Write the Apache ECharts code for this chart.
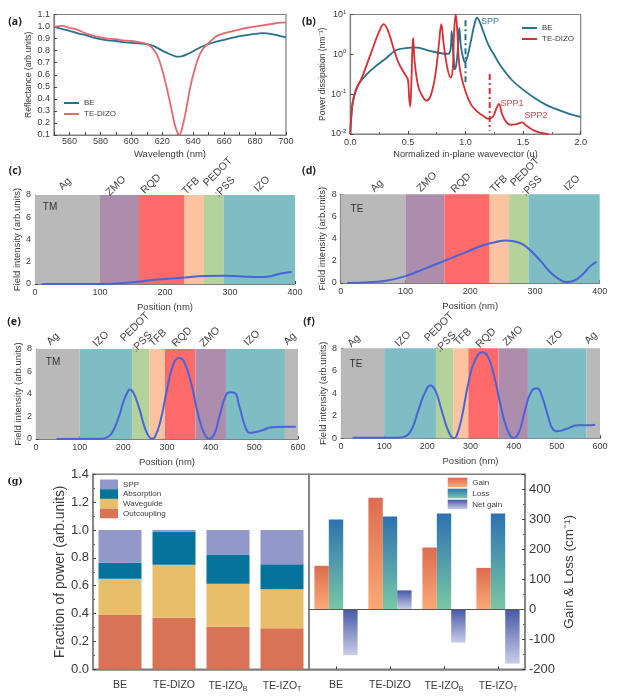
<!DOCTYPE html>
<html lang="en">
<head>
    <meta charset="UTF-8">
    <title>Field intensity and power charts</title>
    <style>
        html, body { margin: 0; padding: 0; background: #fff; }
        #chart { width: 619px; height: 700px; }
    </style>
</head>
<body>
<div id="chart"></div>
<script src="https://cdn.jsdelivr.net/npm/echarts@6/dist/echarts.min.js"></script>
<script type="text/javascript">
    // (a) reflectance
    var beWave = [550,555,560,565,570,575,580,585,590,595,600,605,610,615,620,625,628,630,633,636,640,645,650,655,660,665,670,675,680,685,690,695,700];
    var beRefl = [1.0,.98,.965,.945,.93,.91,.895,.885,.88,.87,.865,.86,.855,.835,.80,.77,.755,.75,.755,.77,.795,.83,.855,.875,.89,.905,.92,.93,.94,.945,.94,.925,.91];
    var dizoWave = [550,555,560,565,570,575,580,585,590,595,600,605,610,613,616,618,620,622,624,626,628,630,631,632,634,636,638,640,642,644,646,648,650,655,660,665,670,675,680,685,690,695,700];
    var dizoRefl = [1.0,1.005,.99,.975,.945,.925,.91,.90,.895,.885,.88,.87,.855,.83,.78,.72,.64,.54,.43,.31,.19,.115,.10,.12,.22,.35,.49,.60,.69,.76,.81,.84,.865,.92,.945,.96,.975,.99,1.0,1.01,1.02,1.03,1.035];

    // (b) power dissipation
    var beU = [0,.005,.01,.02,.05,.1,.2,.3,.4,.5,.55,.6,.7,.8,.85,.87,.88,.89,.9,.905,.92,.935,.946,.96,.98,.995,1.02,1.05,1.08,1.1,1.12,1.15,1.2,1.25,1.3,1.4,1.5,1.6,1.7,1.8,1.9,2.0];
    var bePower = [.01,.02,.03,.06,.13,.23,.45,.75,1.28,1.45,1.5,1.45,1.2,1.05,1.03,1.3,3.8,1.5,.65,.42,.55,1.6,4.6,1.6,.8,.63,.95,2.4,6,8.3,6.8,4.05,1.7,.96,.54,.23,.13,.08,.054,.041,.032,.027];
    var dizoU = [0,.005,.01,.02,.05,.1,.2,.25,.29,.33,.38,.42,.47,.5,.51,.52,.53,.545,.56,.59,.62,.66,.7,.74,.77,.79,.81,.84,.87,.89,.9,.915,.93,.95,1.0,1.05,1.1,1.15,1.2,1.24,1.27,1.29,1.32,1.36,1.4,1.45,1.49,1.53,1.6,1.7,1.72];
    var dizoPower = [.01,.02,.03,.06,.13,.26,1.55,3.7,5.7,3.7,1.28,.6,.33,.23,.087,.049,.19,2.6,.6,.155,.096,.069,.096,.33,1.9,5.7,1.9,.49,.26,.45,3.3,10,3.3,.45,.117,.054,.037,.029,.024,.028,.045,.057,.03,.019,.017,.018,.0195,.016,.012,.0101,.01];
    var sppLineBE = [[1.0,7.2],[1.0,.19]];
    var sppLineDizo = [[1.21,.32],[1.21,.012]];

    // (c)-(f) layer stacks, edges in nm
    var layersC = ['Ag','ZMO','RQD','TFB','PEDOT:PSS','IZO'];
    var edgesC = [0,100,160,230,260,290,400];
    var edgesD = [0,100,160,230,260,290,400];
    var layersE = ['Ag','IZO','PEDOT:PSS','TFB','RQD','ZMO','IZO','Ag'];
    var edgesE = [0,100,220,260,295,365,435,570,600];
    var edgesF = [0,100,220,260,295,365,433,569,600];

    var posC = [10,100,120,150,180,200,230,260,290,320,345,360,375,390,395];
    var fieldC = [0,0,.03,.15,.35,.45,.58,.72,.75,.68,.63,.68,.9,1.05,1.08];
    var posD = [10,50,70,100,130,160,190,220,240,255,275,290,310,325,340,348,360,375,385,395];
    var fieldD = [0,.1,.2,.62,1.3,2.0,2.7,3.4,3.7,3.83,3.65,3.1,1.9,.9,.25,.08,.2,.85,1.5,1.9];
    var posE = [47,150,165,175,190,200,210,215,222,235,250,260,265,272,285,300,315,328,340,355,370,385,397,408,420,435,445,455,465,480,490,500,520,540,570,595];
    var fieldE = [0,.02,.2,.6,2.0,3.3,4.2,4.4,4.2,2.9,.9,.15,.02,.15,1.6,4.4,6.7,7.2,6.8,5.0,2.4,.5,.02,.4,2.0,3.9,4.15,4.1,3.0,1.0,.55,.6,.8,1.05,1.08,1.08];
    var posF = [27,100,130,150,165,180,195,207,218,230,245,255,260,267,280,295,310,328,340,355,370,385,400,412,425,440,454,465,480,490,500,520,549,570,589];
    var fieldF = [.05,.05,.05,.2,.9,2.6,4.1,4.7,4.3,2.9,1.0,.15,.02,.15,1.9,4.9,6.9,7.65,7.3,5.5,2.9,.8,.03,.5,2.3,4.1,4.45,3.8,1.9,.85,.62,.8,1.15,1.15,1.2];

    // (g) power fractions and gain / loss
    var devices = ['BE','TE-DIZO','TE-IZO{sub|B}','TE-IZO{sub|T}'];
    var outcoupling = [.39,.37,.305,.295];
    var waveguide = [.26,.38,.31,.28];
    var absorption = [.115,.24,.21,.18];
    var spp = [.235,.01,.175,.245];
    var gain = [145,372,206,138];
    var loss = [299,309,319,319];
    var netGain = [-153,63,-111,-181];

    var layerColors = {'Ag': '#b9b9b9', 'ZMO': '#ac8dac', 'RQD': '#ff6a6a', 'TFB': '#fcc3a0', 'PEDOT:PSS': '#b4d29b', 'IZO': '#7dbdc3'};
    var textColor = '#3a3a3a';
    var frameColor = '#7f7f7f';
    var fontName = '"Liberation Sans", Arial, sans-serif';

    var chart = echarts.init(document.getElementById('chart'));

    function zip(xs, ys) {
        return xs.map(function (x, i) { return [x, ys[i]]; });
    }

    function grad(top, bottom) {
        return new echarts.graphic.LinearGradient(0, 0, 0, 1, [{offset: 0, color: top}, {offset: 1, color: bottom}]);
    }

    function valueAxis(idx, opt) {
        var axis = {
            type: 'value', gridIndex: idx, nameLocation: 'middle', splitLine: {show: false},
            axisLine: {show: true, onZero: false, lineStyle: {color: frameColor, width: 1.2}},
            axisTick: {show: true, inside: true, length: 3, lineStyle: {color: '#444'}},
            minorTick: {show: true, splitNumber: 2, length: 2, lineStyle: {color: '#666'}},
            axisLabel: {color: textColor, fontSize: 9, fontFamily: fontName, margin: 4, showMinLabel: true, showMaxLabel: true},
            nameTextStyle: {color: textColor, fontSize: 9.5, fontFamily: fontName}
        };
        return Object.assign(axis, opt);
    }

    function layerAreas(names, edges) {
        return names.map(function (n, i) {
            return [{xAxis: edges[i], itemStyle: {color: layerColors[n], opacity: 1}}, {xAxis: edges[i + 1]}];
        });
    }

    function fieldSeries(idx, xs, ys, names, edges) {
        return {
            type: 'line', name: 'field' + idx, xAxisIndex: idx, yAxisIndex: idx, data: zip(xs, ys),
            showSymbol: false, smooth: 0.5,
            lineStyle: {color: '#4a64d8', width: 2},
            markArea: {silent: true, data: layerAreas(names, edges), label: {show: false}}
        };
    }

    function layerText(x, y, txt) {
        return {type: 'text', x: x, y: y, rotation: Math.PI / 4, z: 10,
            style: {text: txt, fill: '#444', fontSize: 10.5, fontFamily: fontName, align: 'center', verticalAlign: 'middle'}};
    }

    function plain(x, y, txt, color, size, weight, family) {
        return {type: 'text', x: x, y: y, z: 10,
            style: {text: txt, fill: color, fontSize: size, fontWeight: weight || 'normal', fontFamily: family || fontName, align: 'center', verticalAlign: 'middle'}};
    }

    var grids = [
        {left: 54, top: 14.5, width: 232, height: 120.5, show: true, borderColor: frameColor, borderWidth: 1.2},
        {left: 350.3, top: 14.5, width: 230.4, height: 119.5, show: true, borderColor: frameColor, borderWidth: 1.2},
        {left: 35, top: 195, width: 260, height: 89},
        {left: 340.7, top: 194.3, width: 259, height: 88.7},
        {left: 36, top: 349, width: 262, height: 90},
        {left: 341, top: 348.3, width: 259, height: 90},
        {left: 93, top: 474.3, width: 216, height: 195, show: true, borderColor: frameColor, borderWidth: 1.5},
        {left: 309, top: 474.3, width: 216, height: 195, show: true, borderColor: frameColor, borderWidth: 1.5}
    ];

    var posAxis = {min: 0, max: 400, interval: 100, name: 'Position (nm)', nameGap: 18};
    var fieldAxis = {min: 0, max: 8, interval: 2, name: 'Field intensity (arb.units)', nameGap: 11};

    var xAxes = [
        valueAxis(0, {min: 550, max: 700, interval: 10, name: 'Wavelength (nm)', nameGap: 14,
            axisLabel: {color: textColor, fontSize: 9, fontFamily: fontName, margin: 2, formatter: function (v) { return v % 20 === 0 ? v : ''; }},
            minorTick: {show: false}}),
        valueAxis(1, {min: 0, max: 2, interval: .5, name: 'Normalized in-plane wavevector (u)', nameGap: 16,
            axisLabel: {color: textColor, fontSize: 9, fontFamily: fontName, margin: 4, formatter: function (v) { return v.toFixed(1); }},
            nameTextStyle: {color: textColor, fontSize: 9.2, fontFamily: fontName}}),
        valueAxis(2, posAxis), valueAxis(3, posAxis),
        valueAxis(4, Object.assign({}, posAxis, {max: 600})), valueAxis(5, Object.assign({}, posAxis, {max: 600})),
        {type: 'category', gridIndex: 6, data: devices,
            axisLine: {show: true, onZero: false, lineStyle: {color: frameColor, width: 1.5}},
            axisTick: {show: true, inside: true, alignWithLabel: true, length: 3, lineStyle: {color: '#444'}},
            axisLabel: {color: textColor, fontSize: 10.5, fontFamily: fontName, margin: 10, interval: 0,
                rich: {sub: {fontSize: 7, verticalAlign: 'bottom', padding: [6, 0, 0, 0], color: textColor, fontFamily: fontName}}}},
        {type: 'category', gridIndex: 7, data: devices, position: 'bottom',
            axisLine: {show: true, onZero: false, lineStyle: {color: frameColor, width: 1.5}},
            axisTick: {show: true, inside: true, alignWithLabel: true, length: 3, lineStyle: {color: '#444'}},
            axisLabel: {color: textColor, fontSize: 10.5, fontFamily: fontName, margin: 10, interval: 0,
                rich: {sub: {fontSize: 7, verticalAlign: 'bottom', padding: [6, 0, 0, 0], color: textColor, fontFamily: fontName}}}}
    ];

    var yAxes = [
        valueAxis(0, {min: .1, max: 1.1, interval: .1, name: 'Reflectance (arb.units)', nameGap: 17,
            axisLabel: {color: textColor, fontSize: 9, fontFamily: fontName, margin: 4, formatter: function (v) { return v.toFixed(1); }},
            minorTick: {show: false}, nameTextStyle: {color: textColor, fontSize: 8.6, fontFamily: fontName}}),
        valueAxis(1, {type: 'log', logBase: 10, min: .01, max: 10, name: 'Power dissipation (nm\u207b\u00b9)', nameGap: 13,
            minorTick: {show: false}, nameTextStyle: {color: textColor, fontSize: 8.6, fontFamily: fontName},
            axisLabel: {color: textColor, fontSize: 9, fontFamily: fontName, margin: 4,
                formatter: function (v) { return '10{sup|' + Math.round(Math.log10(v)) + '}'; },
                rich: {sup: {fontSize: 6, verticalAlign: 'top', padding: [0, 0, 5, 0], color: textColor, fontFamily: fontName}}}}),
        valueAxis(2, fieldAxis), valueAxis(3, fieldAxis), valueAxis(4, fieldAxis), valueAxis(5, fieldAxis),
        valueAxis(6, {min: 0, max: 1.4, interval: .2, name: 'Fraction of power (arb.units)', nameGap: 20,
            axisLabel: {color: textColor, fontSize: 13, fontFamily: fontName, margin: 4, formatter: function (v) { return v.toFixed(1); }},
            axisLine: {show: true, lineStyle: {color: frameColor, width: 1.5}},
            nameTextStyle: {color: textColor, fontSize: 13.8, fontFamily: fontName}}),
        valueAxis(7, {min: -200, max: 450, interval: 100, position: 'right', name: 'Gain & Loss (cm\u207b\u00b9)', nameGap: 37,
            axisLabel: {color: textColor, fontSize: 13, fontFamily: fontName, margin: 4, formatter: function (v) { return v === 450 ? '' : v; }},
            axisLine: {show: true, lineStyle: {color: frameColor, width: 1.5}},
            nameTextStyle: {color: textColor, fontSize: 13.5, fontFamily: fontName}})
    ];

    function lineSeries(idx, name, xs, ys, color, width, smooth) {
        return {type: 'line', name: name, xAxisIndex: idx, yAxisIndex: idx, data: zip(xs, ys),
            showSymbol: false, smooth: smooth, lineStyle: {color: color, width: width}, itemStyle: {color: color}};
    }

    function stackBar(name, vals, color) {
        return {type: 'bar', name: name, xAxisIndex: 6, yAxisIndex: 6, stack: 'power', data: vals, barWidth: 43, itemStyle: {color: color}};
    }

    function gainBar(name, vals, color) {
        return {type: 'bar', name: name, xAxisIndex: 7, yAxisIndex: 7, data: vals, barWidth: 14.4, barGap: 0, itemStyle: {color: color}};
    }

    var netSeries = gainBar('Net gain', netGain, grad('#4658a8', '#c9cde8'));
    netSeries.markLine = {silent: true, symbol: 'none', label: {show: false}, lineStyle: {color: '#555', width: 1.2, type: 'solid'}, data: [{yAxis: 0}]};

    var series = [
        lineSeries(0, 'BE', beWave, beRefl, '#27708c', 1.8, 0.3),
        lineSeries(0, 'TE-DIZO', dizoWave, dizoRefl, '#e36a70', 1.8, 0.3),
        lineSeries(1, 'BE', beU, bePower, '#27708c', 1.8, 0.4),
        lineSeries(1, 'TE-DIZO', dizoU, dizoPower, '#d42f35', 1.8, 0.4),
        {type: 'line', name: 'SPP line', xAxisIndex: 1, yAxisIndex: 1, data: sppLineBE, showSymbol: false, lineStyle: {color: '#27708c', width: 2, type: [6, 3, 2, 3]}},
        {type: 'line', name: 'SPP1 line', xAxisIndex: 1, yAxisIndex: 1, data: sppLineDizo, showSymbol: false, lineStyle: {color: '#d42f35', width: 2, type: [6, 3, 2, 3]}},
        fieldSeries(2, posC, fieldC, layersC, edgesC),
        fieldSeries(3, posD, fieldD, layersC, edgesD),
        fieldSeries(4, posE, fieldE, layersE, edgesE),
        fieldSeries(5, posF, fieldF, layersE, edgesF),
        stackBar('Outcoupling', outcoupling, '#d97355'),
        stackBar('Waveguide', waveguide, '#e8be6a'),
        stackBar('Absorption', absorption, '#06739c'),
        stackBar('SPP', spp, '#9398cb'),
        gainBar('Gain', gain, grad('#dc6c50', '#fba976')),
        gainBar('Loss', loss, grad('#2e72b0', '#78c8a4')),
        netSeries
    ];

    function lineLegend(left, top, beColor, dizoColor) {
        return {orient: 'vertical', left: left, top: top, padding: 0, icon: 'rect', itemWidth: 15, itemHeight: 2, itemGap: 3,
            selectedMode: false, textStyle: {color: textColor, fontSize: 8, fontFamily: fontName},
            data: [{name: 'BE', itemStyle: {color: beColor}}, {name: 'TE-DIZO', itemStyle: {color: dizoColor}}]};
    }

    var graphics = [
        plain(15, 22, '(a)', '#222', 10.5, 'bold', '"Noto Sans"'),
        plain(309, 22, '(b)', '#222', 10.5, 'bold', '"Noto Sans"'),
        plain(15, 171, '(c)', '#222', 10.5, 'bold', '"Noto Sans"'),
        plain(309, 171, '(d)', '#222', 10.5, 'bold', '"Noto Sans"'),
        plain(14, 322, '(e)', '#222', 10.5, 'bold', '"Noto Sans"'),
        plain(309, 322, '(f)', '#222', 10.5, 'bold', '"Noto Sans"'),
        plain(15, 482, '(g)', '#222', 9.5, 'bold', '"DejaVu Serif"'),
        plain(490, 22, 'SPP', '#2f7fa5', 9),
        plain(512, 104, 'SPP1', '#d0474c', 9),
        plain(536, 116, 'SPP2', '#d0474c', 9),
        plain(50, 207, 'TM', '#333', 10),
        plain(357, 209, 'TE', '#333', 10),
        plain(53, 362, 'TM', '#333', 10),
        plain(356, 364, 'TE', '#333', 10),
        // (c)
        layerText(65, 184, 'Ag'), layerText(116, 186, 'ZMO'), layerText(151, 184, 'RQD'), layerText(191, 186, 'TFB'),
        layerText(218, 172, 'PEDOT'), layerText(225, 187, ':PSS'), layerText(262, 184, 'IZO'),
        // (d)
        layerText(377, 186, 'Ag'), layerText(427, 182, 'ZMO'), layerText(461, 183, 'RQD'), layerText(499, 184, 'TFB'),
        layerText(525, 172, 'PEDOT'), layerText(532, 186, ':PSS'), layerText(572, 183, 'IZO'),
        // (e)
        layerText(53, 339, 'Ag'), layerText(101, 339, 'IZO'), layerText(135, 327, 'PEDOT'), layerText(142, 342, ':PSS'),
        layerText(158, 338, 'TFB'), layerText(182, 337, 'RQD'), layerText(210, 337, 'ZMO'), layerText(252, 338, 'IZO'), layerText(290, 339, 'Ag'),
        // (f)
        layerText(354, 341, 'Ag'), layerText(403, 339, 'IZO'), layerText(439, 327, 'PEDOT'), layerText(446, 342, ':PSS'),
        layerText(463, 337, 'TFB'), layerText(486, 338, 'RQD'), layerText(513, 336, 'ZMO'), layerText(555, 338, 'IZO'), layerText(591, 338, 'Ag')
    ];

    chart.setOption({
        backgroundColor: '#fff',
        animation: false,
        grid: grids,
        xAxis: xAxes,
        yAxis: yAxes,
        series: series,
        graphic: graphics,
        legend: [
            lineLegend(64, 99, '#27708c', '#e36a70'),
            lineLegend(522, 24, '#27708c', '#d42f35'),
            {orient: 'vertical', left: 100, top: 479.5, padding: 0, itemWidth: 18, itemHeight: 9.7, itemGap: 0, icon: 'rect', selectedMode: false,
                textStyle: {color: textColor, fontSize: 8, fontFamily: fontName},
                data: ['SPP', 'Absorption', 'Waveguide', 'Outcoupling']},
            {orient: 'vertical', left: 447.7, top: 477.7, padding: 0, itemWidth: 19.6, itemHeight: 9.5, itemGap: 1.5, icon: 'rect', selectedMode: false,
                textStyle: {color: textColor, fontSize: 8, fontFamily: fontName},
                data: ['Gain', 'Loss', 'Net gain']}
        ]
    });
</script>
</body>
</html>
